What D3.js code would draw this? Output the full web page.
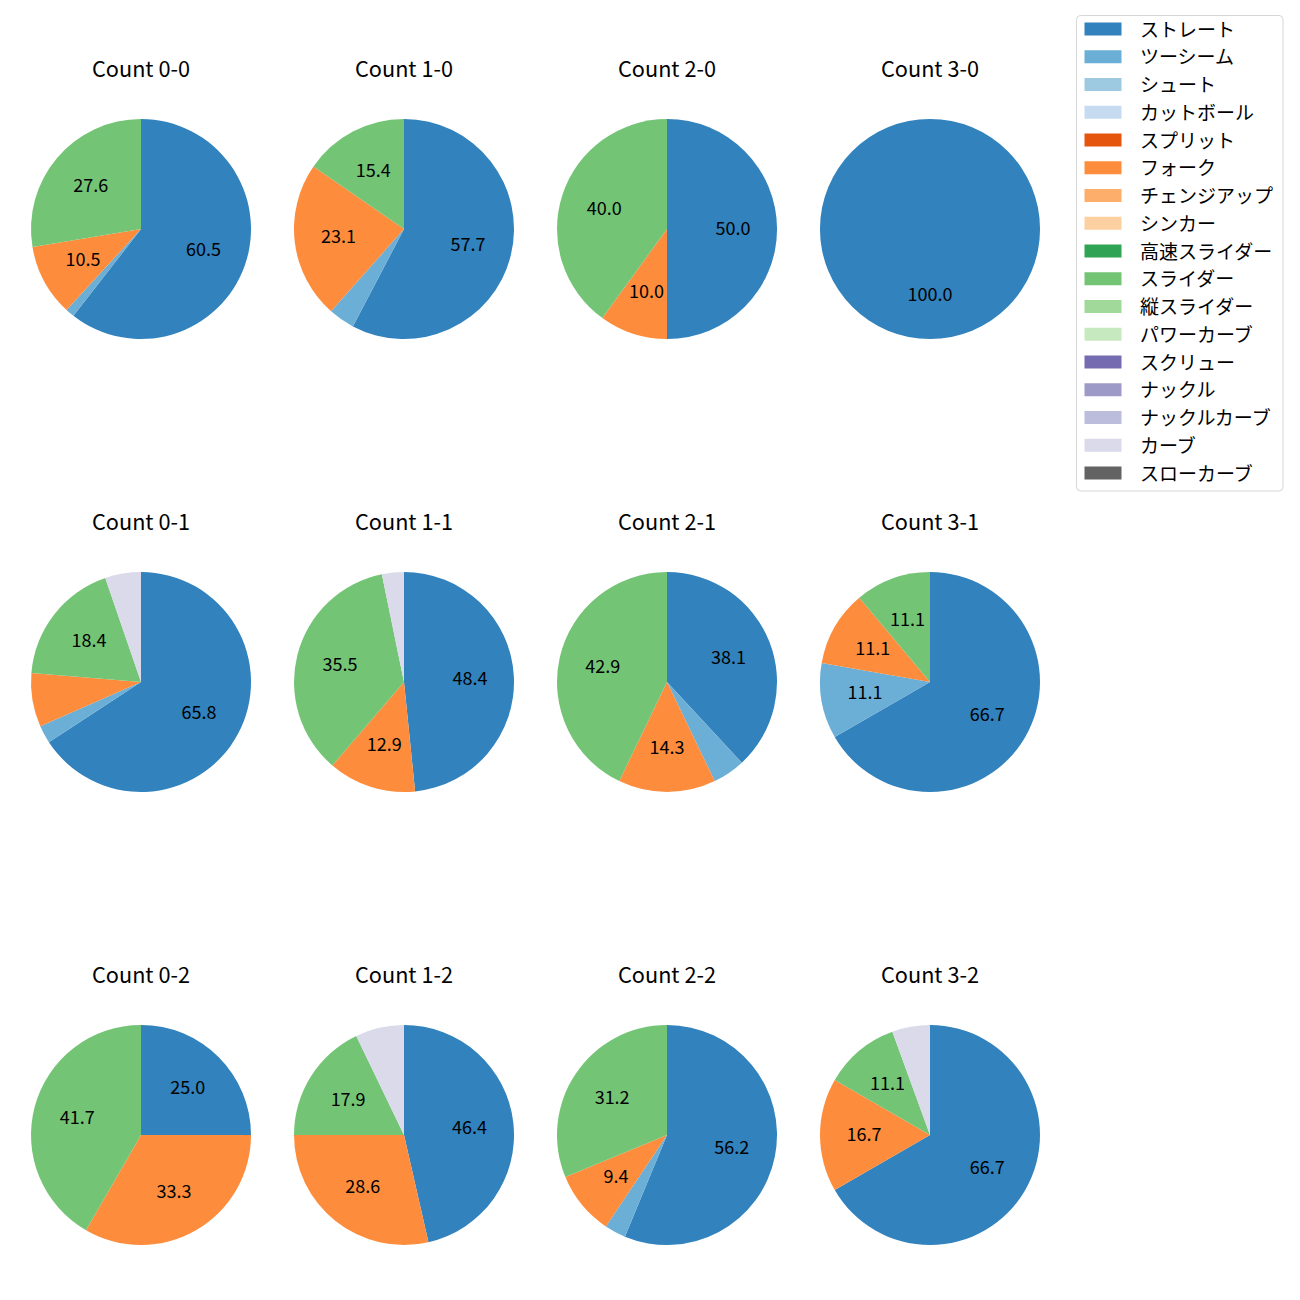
<!DOCTYPE html>
<html><head><meta charset="utf-8">
<script src="https://cdn.jsdelivr.net/npm/d3@7"></script>
<style>body{margin:0;background:#fff;} text{font-family:"Noto Sans CJK JP","Noto Sans",sans-serif;}</style>
</head><body>
<svg id="chart" width="1300" height="1300"></svg>
<script>
const pitchTypes = ["ストレート","ツーシーム","シュート","カットボール","スプリット","フォーク","チェンジアップ","シンカー","高速スライダー","スライダー","縦スライダー","パワーカーブ","スクリュー","ナックル","ナックルカーブ","カーブ","スローカーブ"];
const pitchColors = ["#3182bd","#6baed6","#9ecae1","#c6dbef","#e6550d","#fd8d3c","#fdae6b","#fdd0a2","#31a354","#74c476","#a1d99b","#c7e9c0","#756bb1","#9e9ac8","#bcbddc","#dadaeb","#636363"];
const panels = ["0-0","1-0","2-0","3-0","0-1","1-1","2-1","3-1","0-2","1-2","2-2","3-2"];
// pitch counts per panel (panels order)
const straight = [46,15,5,1,25,15,8,6,3,13,18,12];
const twoSeam  = [1,1,0,0,1,0,1,1,0,0,1,0];
const fork     = [8,6,1,0,3,4,3,1,4,8,3,3];
const slider   = [21,4,4,0,7,11,9,1,5,5,10,2];
const curve    = [0,0,0,0,2,1,0,0,0,2,0,1];

const seriesByType = {"ストレート":straight,"ツーシーム":twoSeam,"フォーク":fork,"スライダー":slider,"カーブ":curve};

// one-decimal formatting with round-half-even on exact ties
function fmt1(p) {
  const x = p * 10, f = Math.floor(x);
  let n;
  if (Math.abs(x - f - 0.5) < 1e-9) n = (f % 2 === 0) ? f : f + 1;
  else n = Math.round(x);
  return (n / 10).toFixed(1);
}

const svg = d3.select("#chart");
const color = d3.scaleOrdinal().domain(pitchTypes).range(pitchColors);
const colX = d3.scalePoint().domain([0,1,2,3]).range([141,930]);
const rowY = d3.scalePoint().domain([0,1,2]).range([229,1135]);
const R = 110;
const arc = d3.arc().innerRadius(0).outerRadius(R);
const labelArc = d3.arc().innerRadius(R*0.6).outerRadius(R*0.6);
const pie = d3.pie().sort(null).value(d => d.v);

panels.forEach((p, i) => {
  const c = i % 4, r = Math.floor(i / 4);
  const cx = colX(c), cy = rowY(r);
  const data = pitchTypes.map(t => ({t, v: seriesByType[t] ? seriesByType[t][i] : 0})).filter(d => d.v > 0);
  const total = d3.sum(data, d => d.v);
  const g = svg.append("g").attr("transform", `translate(${cx},${cy})`);
  const arcs = pie(data);
  g.selectAll("path").data(arcs).join("path")
    .attr("d", arc).attr("fill", d => color(d.data.t));
  g.selectAll("text.lbl").data(arcs.filter(d => d.data.v / total * 100 >= 9)).join("text")
    .attr("class","lbl")
    .attr("transform", d => { const [x, y] = labelArc.centroid(d); return `translate(${x},${y - 2})`; })
    .attr("text-anchor","middle").attr("dominant-baseline","central")
    .attr("font-size", 18).attr("fill","#000")
    .text(d => fmt1(d.data.v / total * 100));
  svg.append("text").attr("x", cx).attr("y", cy - 152)
    .attr("text-anchor","middle").attr("font-size", 21.7).attr("fill","#000")
    .text("Count " + p);
});

// legend
const lg = svg.append("g");
lg.append("rect").attr("x",1076.5).attr("y",15.5).attr("width",206.5).attr("height",475.5)
  .attr("rx",4).attr("fill","#fff").attr("stroke","#d6d6d6").attr("stroke-width",1);
const ly = d3.scaleLinear().domain([0,16]).range([29,473]);
pitchTypes.forEach((t, i) => {
  lg.append("rect").attr("x",1084.5).attr("y", ly(i) - 6.5).attr("width",37).attr("height",13)
    .attr("fill", color(t));
  lg.append("text").attr("x",1140).attr("y", ly(i) - 1).attr("dominant-baseline","central")
    .attr("font-size",19).attr("fill","#000").text(t);
});
</script>
</body></html>
